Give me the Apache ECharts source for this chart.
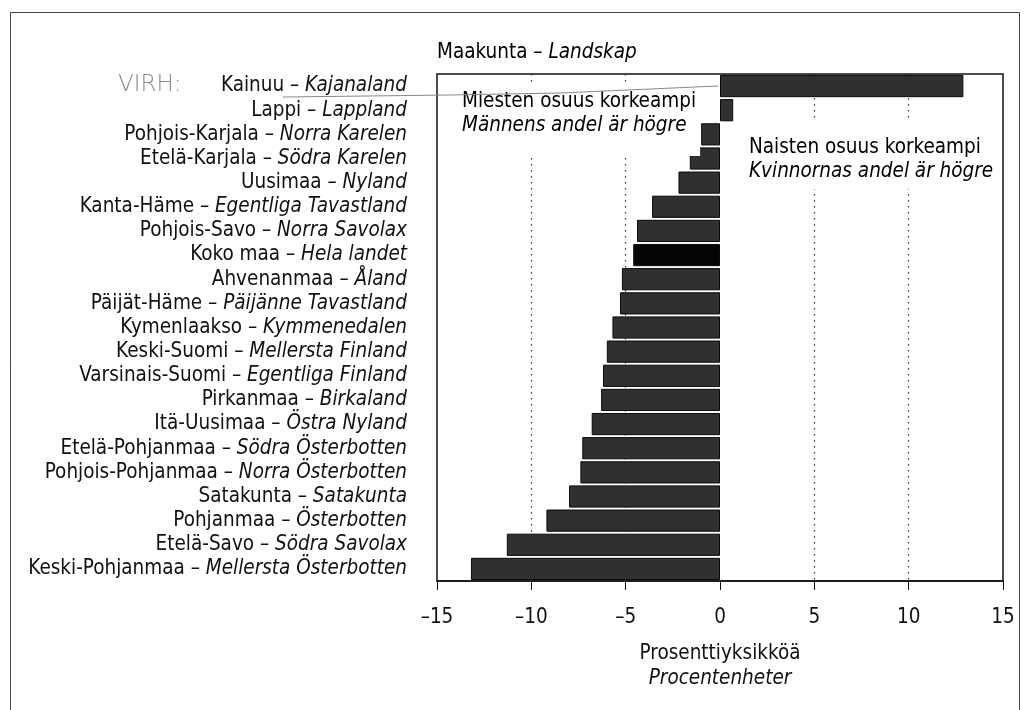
<!DOCTYPE html>
<html><head><meta charset="utf-8">
<script src="https://cdn.jsdelivr.net/npm/echarts@6/dist/echarts.min.js"></script>
<style>html,body{margin:0;padding:0;background:#fff;overflow:hidden}#c{width:1029px;height:710px}</style>
</head><body><div id="c"></div>
<script>
const regionsFi = ['Kainuu','Lappi','Pohjois-Karjala','Etelä-Karjala','Uusimaa','Kanta-Häme','Pohjois-Savo','Koko maa','Ahvenanmaa','Päijät-Häme','Kymenlaakso','Keski-Suomi','Varsinais-Suomi','Pirkanmaa','Itä-Uusimaa','Etelä-Pohjanmaa','Pohjois-Pohjanmaa','Satakunta','Pohjanmaa','Etelä-Savo','Keski-Pohjanmaa'];
const regionsSv = ['Kajanaland','Lappland','Norra Karelen','Södra Karelen','Nyland','Egentliga Tavastland','Norra Savolax','Hela landet','Åland','Päijänne Tavastland','Kymmenedalen','Mellersta Finland','Egentliga Finland','Birkaland','Östra Nyland','Södra Österbotten','Norra Österbotten','Satakunta','Österbotten','Södra Savolax','Mellersta Österbotten'];
const values = [12.9, 0.7, -1.0, -1.6, -2.2, -3.6, -4.4, -4.6, -5.2, -5.3, -5.7, -6.0, -6.2, -6.3, -6.8, -7.3, -7.4, -8.0, -9.2, -11.3, -13.2];
const totalLabel = 'Koko maa';
const xTicks = [-15, -10, -5, 0, 5, 10, 15];

const FONT = "'Liberation Sans Narrow','Arial Narrow','DejaVu Sans Condensed',sans-serif";
const FS = 20.5;
const categories = regionsFi.map((f, i) => f + '|' + regionsSv[i]);

const chart = echarts.init(document.getElementById('c'), null, {renderer: 'canvas', width: 1029, height: 710});
chart.setOption({
  backgroundColor: '#fff',
  animation: false,
  grid: {left: 437, width: 566, top: 74, height: 507, show: true, borderColor: '#111', borderWidth: 1.5,
    containLabel: false, outerBoundsMode: 'none'},
  xAxis: {
    type: 'value', min: xTicks[0], max: xTicks[xTicks.length - 1], interval: 5,
    axisLine: {show: true, lineStyle: {color: '#111', width: 1.5}},
    axisTick: {show: true, length: 9, lineStyle: {color: '#111'}},
    axisLabel: {margin: 26, fontFamily: FONT, fontSize: FS, color: '#111',
      formatter: v => (v < 0 ? '–' + Math.abs(v) : String(v))},
    splitLine: {show: true, lineStyle: {type: [1.5, 4.5], width: 1.2,
      color: xTicks.map(t => (t === 0 || Math.abs(t) === 15) ? 'rgba(0,0,0,0)' : '#333')}},
    name: '{a|Prosenttiyksikköä}\n{b|Procentenheter}',
    nameLocation: 'middle', nameGap: 60,
    nameTextStyle: {rich: {
      a: {fontFamily: FONT, fontSize: FS, color: '#111', lineHeight: 25, align: 'center'},
      b: {fontFamily: FONT, fontSize: FS, fontStyle: 'italic', color: '#111', lineHeight: 25, align: 'center'}
    }}
  },
  yAxis: {
    type: 'category', data: categories, inverse: true,
    axisLine: {show: false}, axisTick: {show: false}, splitLine: {show: false},
    axisLabel: {margin: 30, formatter: v => { const p = v.split('|'); return '{a|' + p[0] + ' – }{b|' + p[1] + '}'; },
      rich: {
        a: {fontFamily: FONT, fontSize: FS, color: '#111'},
        b: {fontFamily: FONT, fontSize: FS, fontStyle: 'italic', color: '#111'}
      }}
  },
  series: [{
    type: 'bar', barCategoryGap: '8%',
    data: values.map((v, i) => ({value: v, itemStyle: regionsFi[i] === totalLabel ? {color: '#050505'} : undefined})),
    itemStyle: {color: '#303030', borderColor: '#0a0a0a', borderWidth: 1}
  }],
  graphic: [
    {type: 'rect', shape: {x: 10.5, y: 12.5, width: 1009, height: 760}, style: {fill: 'none', stroke: '#444', lineWidth: 1}, z: 0, silent: true},
    {type: 'text', left: 437, top: 42, style: {text: '{a|Maakunta – }{b|Landskap}', rich: {
      a: {fontFamily: FONT, fontSize: FS, color: '#111'}, b: {fontFamily: FONT, fontSize: FS, fontStyle: 'italic', color: '#111'}}}},
    {type: 'text', left: 460, top: 84, z: 100, style: {text: '{a|Miesten osuus korkeampi}\n{b|Männens andel är högre}', backgroundColor: '#fff', padding: [6, 4, 18, 2], rich: {
      a: {fontFamily: FONT, fontSize: FS, color: '#111', lineHeight: 24}, b: {fontFamily: FONT, fontSize: FS, fontStyle: 'italic', color: '#111', lineHeight: 24}}}},
    {type: 'text', left: 747, top: 122, z: 100, style: {text: '{a|Naisten osuus korkeampi}\n{b|Kvinnornas andel är högre}', backgroundColor: '#fff', padding: [14, 4, 5, 2], rich: {
      a: {fontFamily: FONT, fontSize: FS, color: '#111', lineHeight: 24}, b: {fontFamily: FONT, fontSize: FS, fontStyle: 'italic', color: '#111', lineHeight: 24}}}},
    {type: 'text', left: 118, top: 74, z: 100, style: {text: 'VIRH:', fontFamily: "'DejaVu Sans'", fontSize: 23, fill: '#8a8a8a', fontWeight: 'lighter', letterSpacing: 8}},
    {type: 'polyline', z: 100, shape: {points: [[283, 97], [450, 95], [560, 93], [718, 86]]}, style: {stroke: '#888', lineWidth: 1, fill: 'none'}}
  ]
});
</script></body></html>
